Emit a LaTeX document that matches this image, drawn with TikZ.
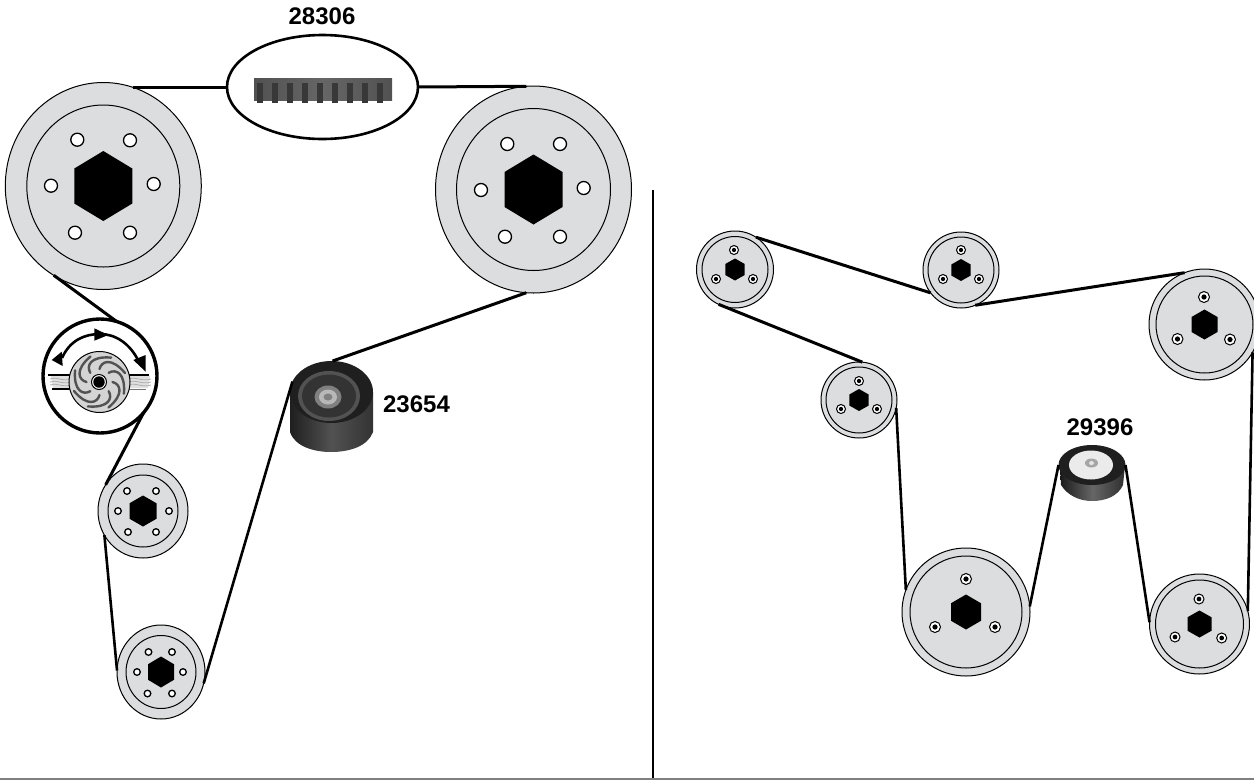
\documentclass[tikz,border=0pt]{standalone}
\usepackage{fontspec}
\setmainfont{Liberation Sans}
\usetikzlibrary{shapes.geometric}
\definecolor{pulleygray}{HTML}{DCDDDE}
\tikzset{
  wh/.style 2 args={minimum width=#1*2pt,minimum height=#2*2pt},
  outerdisc/.style={ellipse,draw=black,line width=1pt,fill=pulleygray,inner sep=0pt,outer sep=0pt},
  innerdisc/.style={ellipse,draw=black,line width=1pt,fill=pulleygray,inner sep=0pt,outer sep=0pt},
  holeplain/.style={circle,draw=black,line width=1.3pt,fill=white,inner sep=0pt,outer sep=0pt},
  holedot/.style={circle,draw=black,line width=1pt,fill=white,inner sep=0pt,outer sep=0pt},
  dotc/.style={circle,fill=black,inner sep=0pt,outer sep=0pt},
  belt/.style={line width=3pt,black},
  beltthin/.style={line width=2.6pt,black},
  partlabel/.style={font=\fontsize{24}{24}\selectfont\bfseries,inner sep=0pt},
  vane/.style={line width=2.4pt,draw=black!68,line cap=round},
  water/.style={line width=.8pt,draw=black!32},
}
% name, x, y, outer size, inner size, hex half width, hex half height, hole r, hole list
\newcommand{\hexat}[4]{\fill[black] (#1,#2-#4) -- (#1+#3,#2-#4/2) -- (#1+#3,#2+#4/2) -- (#1,#2+#4) -- (#1-#3,#2+#4/2) -- (#1-#3,#2-#4/2) -- cycle;}
\newcommand{\pulleyplain}[9]{%
  \node[outerdisc,#4] (#1) at (#2,#3) {};
  \node[innerdisc,#5] (#1-in) at (#2,#3) {};
  \hexat{#2}{#3}{#6}{#7}
  \foreach \hx/\hy [count=\i] in {#9}{\node[holeplain,minimum size=#8*2pt] (#1-h\i) at (\hx,\hy) {};}
}
\newcommand{\pulleydot}[9]{%
  \node[outerdisc,#4] (#1) at (#2,#3) {};
  \node[innerdisc,#5] (#1-in) at (#2,#3) {};
  \hexat{#2}{#3}{#6}{#7}
  \foreach \hx/\hy [count=\i] in {#9}{\node[holedot,minimum size=#8*2pt] (#1-h\i) at (\hx,\hy) {};\node[dotc,minimum size=#8*0.95pt] (#1-d\i) at (\hx,\hy) {};}
}
\begin{document}
\begin{tikzpicture}[x=1pt,y=-1pt]
\useasboundingbox (0,0) rectangle (1254,780);
\fill[white] (0,0) rectangle (1254,780);
% floor and divider
\coordinate (fl) at (0,779); \coordinate (fr) at (1254,779);
\draw[line width=2pt,black!50] (fl) -- (fr);
\coordinate (dt) at (653,190); \coordinate (db) at (653,778);
\draw[line width=2pt,black] (dt) -- (db);

% ---------- left: pulleys
\pulleyplain{A}{103.3}{186}{wh={98}{103.5}}{wh={76.5}{81}}{29}{35}{6.5}{77.3/139.7,130/140.3,51/185.7,153.7/184,75/232.7,130/232.7}
\pulleyplain{B}{533.5}{189.5}{wh={98}{103.5}}{wh={77}{81}}{29}{35}{6.5}{507.3/144,560/144,481/190,583.7/188,505/236.7,560/236.7}
\pulleyplain{C}{143}{511}{wh={45}{47}}{wh={35}{36}}{13.5}{15.5}{3.3}{127/491,156/491,118/511,169/511,128/532,156/532}
\pulleyplain{D}{161}{672}{wh={44}{47}}{wh={35}{36.5}}{13}{15.5}{3.3}{148.5/652,172/652,137/672,183/672,147.5/693.5,172/693.5}

% pump
\node[circle,draw=black,line width=3.4pt,fill=white,minimum size=114pt,inner sep=0pt,outer sep=0pt] (P) at (100,376) {};
\fill[black!12] (51,376) -- (72,376) -- (72,388) -- (53,388) -- cycle;
\fill[black!12] (128,376) -- (150,376) -- (148,388) -- (128,388) -- cycle;
\foreach \yy in {379,382,385}{
  \draw[water] (50,\yy) .. controls (56,\yy-3) and (62,\yy+3) .. (72,\yy);
  \draw[water] (128,\yy) .. controls (135,\yy-3) and (142,\yy+3) .. (151,\yy);
}
\draw[line width=1.3pt] (48,375) -- (71,375);
\draw[line width=1.3pt] (52,389) -- (71,389);
\draw[line width=1.3pt] (129,375) -- (149,375);
\draw[line width=.8pt,black!55] (129,389) -- (146,389);
\node[circle,draw=black,line width=1pt,fill=black!17,minimum size=61pt,inner sep=0pt] (imp) at (99.5,382) {};
\foreach \a in {0,45,...,315}{
  \begin{scope}[shift={(99.5,382)},rotate=\a]
    \draw[vane] (13,0) .. controls (21,2) and (25,12) .. (9,25.5);
  \end{scope}
}
\node[circle,draw=black,line width=1pt,fill=white,minimum size=15pt,inner sep=0pt] (hubo) at (99,382) {};
\node[circle,fill=black,minimum size=11.5pt,inner sep=0pt] (hubi) at (99,382) {};
\draw[line width=2.6pt] (62,358) .. controls (70,340) and (85,334) .. (100,334) .. controls (115,334) and (130,343) .. (139,362);
\fill (94.3,328.3) -- (94.3,340.7) -- (108.3,335) -- cycle;
\fill (133.3,360) -- (145.7,355) -- (145.7,371.7) -- cycle;
\fill (61.7,351.7) -- (62.7,366) -- (51.7,360) -- cycle;

% belt picture ellipse
\node[ellipse,draw=black,line width=2.6pt,fill=white,minimum width=191pt,minimum height=104pt,inner sep=0pt,outer sep=0pt] (E) at (322.5,87) {};
\shade[left color=black!68,right color=black!68,middle color=black!60] (254,78) rectangle (392,100.5);
\foreach \tx in {260,275,290,305,320,335,350,365,380}{
  \fill[black!78] (\tx-3,83) rectangle (\tx+3,103);
}

% idler 23654
\shade[left color=black!88,right color=black!80,middle color=black!68] (290,392) -- (290,432) .. controls (295,447) and (315,452) .. (331,452) .. controls (350,452) and (368,446) .. (373,432) -- (373,392) -- cycle;
\node[ellipse,fill=black!88,minimum width=83pt,minimum height=62pt,inner sep=0pt,outer sep=0pt] (I1) at (331.5,392) {};
\node[ellipse,fill=black!68,minimum width=62pt,minimum height=50pt,inner sep=0pt] (I1a) at (329,396) {};
\node[ellipse,fill=black!80,minimum width=54pt,minimum height=43pt,inner sep=0pt] (I1b) at (329,396) {};
\node[ellipse,fill=black!50,minimum width=27pt,minimum height=23pt,inner sep=0pt] (I1c) at (328,397) {};
\node[ellipse,fill=black!28,minimum width=18pt,minimum height=15pt,inner sep=0pt] (I1d) at (328,397) {};
\node[ellipse,fill=black!50,minimum width=9pt,minimum height=7pt,inner sep=0pt] (I1e) at (328,397) {};

% ---------- right: pulleys
\pulleydot{F1}{735}{269.5}{wh={38.5}{38.5}}{wh={33}{33}}{9.7}{11}{4.5}{734/250,716/279,753/279}
\pulleydot{F2}{961}{270}{wh={38}{38}}{wh={33}{33}}{9.7}{11}{4.5}{961/250,943/279,979/279}
\pulleydot{F3}{1204.5}{324.5}{wh={55.5}{55.5}}{wh={48.5}{48.5}}{13}{15}{5.5}{1204/297,1177.5/339,1230/339.5}
\pulleydot{F4}{859}{400}{wh={38}{38}}{wh={33}{33}}{9.7}{11}{4.5}{859/381,841/409,877/409}
\pulleydot{F5}{966}{612}{wh={64}{64}}{wh={56}{56}}{15}{17.5}{5.5}{966/579,935/627,995/627}
\pulleydot{F6}{1199.5}{624}{wh={50}{50}}{wh={44}{44}}{12}{13.5}{5}{1199/599,1175/637,1221.7/638}

% idler 29396
\shade[left color=black!90,right color=black!82,middle color=black!60] (1060,466) -- (1061,485) .. controls (1068,496) and (1080,501) .. (1092,501) .. controls (1106,501) and (1118,496) .. (1123,485) -- (1125,466) -- cycle;
\node[ellipse,fill=black!88,minimum width=67pt,minimum height=40pt,inner sep=0pt,outer sep=0pt] (I2) at (1092,465) {};
\node[ellipse,fill=black!8,minimum width=44pt,minimum height=29pt,inner sep=0pt] (I2a) at (1091,465) {};
\node[ellipse,fill=black!35,minimum width=13pt,minimum height=9pt,inner sep=0pt] (I2b) at (1091.5,463) {};
\node[ellipse,fill=black!10,minimum width=5pt,minimum height=4pt,inner sep=0pt] (I2c) at (1091.5,463) {};

% ---------- belts
\draw[belt] (A.73) -- (E.west |- A.73);
\draw[belt] (E.east) -- (B.94);
\draw[belt] (B.266) -- (I1.88);
\draw[beltthin] (I1.165) -- (D.-15);
\draw[belt] (A.241) -- (P.73);
\draw[belt] (P.-40) -- (C.145);
\draw[beltthin] (C.212) -- (D.178);
\draw[belt] (F1.57) -- (F2.217);
\draw[belt] (F2.-68) -- (F3.111);
\draw[belt] (F4.85) -- (F1.245);
\draw[beltthin] (F4.-12) -- (F5.160);
\draw[beltthin] (F5.5) -- (I2.west);
\draw[beltthin] (I2.east) -- (F6.178);
\draw[beltthin] (F6.15) -- (F3.-30);

% ---------- labels
\node[partlabel] (L1) at (322,16) {28306};
\node[partlabel] (L2) at (416.5,404) {23654};
\node[partlabel] (L3) at (1100,427) {29396};
\end{tikzpicture}
\end{document}
